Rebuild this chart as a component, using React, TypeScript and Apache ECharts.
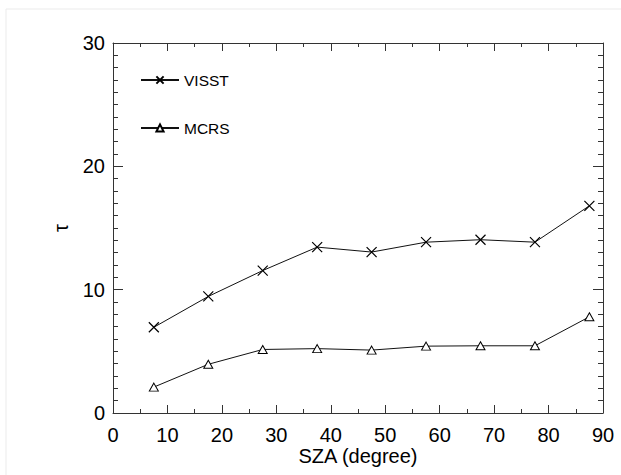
import React, { useEffect, useRef } from "react";
import * as echarts from "echarts";

const sza = [7.5, 17.5, 27.5, 37.5, 47.5, 57.5, 67.5, 77.5, 87.5];
const visst = [6.95, 9.45, 11.55, 13.45, 13.05, 13.85, 14.05, 13.85, 16.8];
const mcrs = [2.1, 3.95, 5.15, 5.22, 5.1, 5.42, 5.45, 5.45, 7.8];
const seriesNames = ["VISST", "MCRS"];
const xName = "SZA (degree)";
const yName = "τ";

const FONT = "'Liberation Sans', Arial, Helvetica, sans-serif";
const AXIS_COLOR = "#333";
const X_SYMBOL = "path://M0,0L10,10M10,0L0,10";

function pairs(xs: number[], ys: number[]) {
  return xs.map((x, i) => [x, ys[i]]);
}

export default function App() {
  const ref = useRef<HTMLDivElement>(null);
  useEffect(() => {
    if (!ref.current) return;
    const chart = echarts.init(ref.current, null, { renderer: "svg" });
    const axisCommon = {
      axisLine: { show: true, onZero: false, lineStyle: { color: AXIS_COLOR, width: 1 } },
      splitLine: { show: false },
    };
    chart.setOption({
      animation: false,
      backgroundColor: "#fff",
      textStyle: { fontFamily: FONT },
      grid: { left: 113, right: 18, top: 43, bottom: 62, containLabel: false },
      graphic: [
        {
          type: "rect",
          shape: { x: 6, y: 9, width: 800, height: 800 },
          style: { fill: "none", stroke: "#ebebeb", lineWidth: 1 },
          silent: true,
          z: -10,
        },
      ],
      legend: {
        orient: "vertical",
        left: 135,
        top: 67,
        itemWidth: 38,
        itemHeight: 9,
        itemGap: 32,
        textStyle: { fontFamily: FONT, fontSize: 15.5, color: "#000" },
        data: seriesNames,
      },
      xAxis: [
        {
          type: "value",
          min: 0,
          max: 90,
          interval: 10,
          position: "bottom",
          name: xName,
          nameLocation: "middle",
          nameGap: 33,
          nameMoveOverlap: false,
          nameTextStyle: { fontFamily: FONT, fontSize: 20, lineHeight: 20, color: "#000" },
          ...axisCommon,
          axisTick: { show: true, inside: true, length: 8, lineStyle: { color: AXIS_COLOR } },
          minorTick: { show: true, splitNumber: 2, length: 4, lineStyle: { color: AXIS_COLOR } },
          axisLabel: { show: true, margin: 12, fontFamily: FONT, fontSize: 20, lineHeight: 20, color: "#000" },
        },
        {
          type: "value",
          min: 0,
          max: 90,
          interval: 10,
          position: "top",
          ...axisCommon,
          axisTick: { show: true, inside: true, length: 8, lineStyle: { color: AXIS_COLOR } },
          minorTick: { show: true, splitNumber: 2, length: 4, lineStyle: { color: AXIS_COLOR } },
          axisLabel: { show: false },
        },
      ],
      yAxis: [
        {
          type: "value",
          min: 0,
          max: 30,
          interval: 10,
          position: "left",
          name: yName,
          nameLocation: "middle",
          nameGap: 42,
          nameMoveOverlap: false,
          nameRotate: 90,
          nameTextStyle: { fontFamily: FONT, fontSize: 20, color: "#000" },
          ...axisCommon,
          axisTick: { show: true, inside: true, length: 10, lineStyle: { color: AXIS_COLOR } },
          minorTick: { show: true, splitNumber: 10, length: 5, lineStyle: { color: AXIS_COLOR } },
          axisLabel: { show: true, margin: 8, fontFamily: FONT, fontSize: 20, color: "#000" },
        },
        {
          type: "value",
          min: 0,
          max: 30,
          interval: 10,
          position: "right",
          ...axisCommon,
          axisTick: { show: true, inside: true, length: 10, lineStyle: { color: AXIS_COLOR } },
          minorTick: { show: true, splitNumber: 10, length: 5, lineStyle: { color: AXIS_COLOR } },
          axisLabel: { show: false },
        },
      ],
      series: [
        {
          name: seriesNames[0],
          type: "line",
          xAxisIndex: 0,
          yAxisIndex: 0,
          data: pairs(sza, visst),
          symbol: X_SYMBOL,
          symbolSize: 10,
          showAllSymbol: true,
          lineStyle: { color: "#111", width: 1 },
          itemStyle: { color: "none", borderColor: "#000", borderWidth: 1.2 },
        },
        {
          name: seriesNames[1],
          type: "line",
          xAxisIndex: 0,
          yAxisIndex: 0,
          data: pairs(sza, mcrs),
          symbol: "triangle",
          symbolSize: [9, 8],
          showAllSymbol: true,
          lineStyle: { color: "#111", width: 1 },
          itemStyle: { color: "#fff", borderColor: "#000", borderWidth: 1 },
        },
      ],
    });
    return () => chart.dispose();
  }, []);
  return <div ref={ref} style={{ width: 621, height: 475, position: "absolute", left: 0, top: 0 }} />;
}
